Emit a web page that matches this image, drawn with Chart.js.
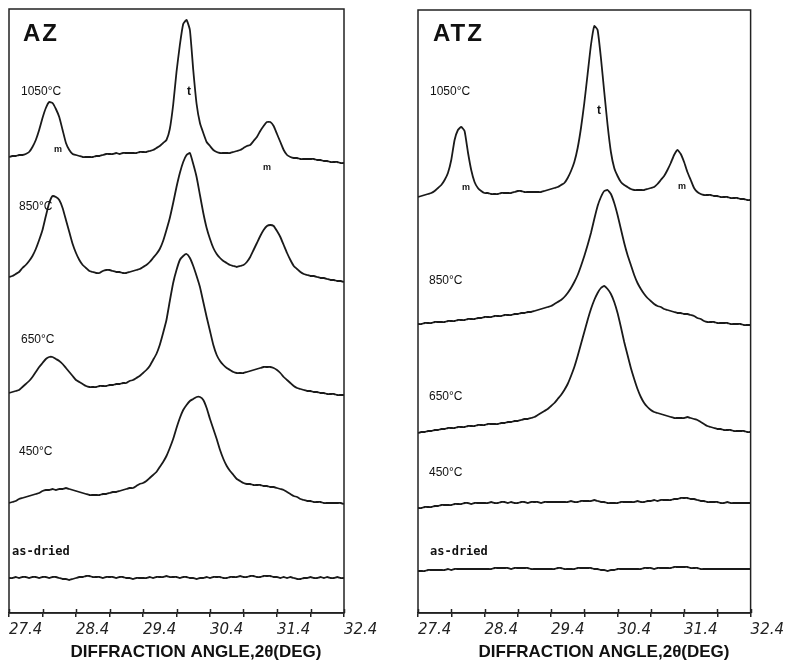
<!DOCTYPE html>
<html>
<head>
<meta charset="utf-8">
<script src="https://cdn.jsdelivr.net/npm/chart.js@4.4.1/dist/chart.umd.min.js"></script>
<style>
  body { margin: 0; background: #fff; }
  #wrap { position: relative; width: 788px; height: 662px; }
  canvas { position: absolute; top: 0; }
</style>
</head>
<body>
<div id="wrap">
  <canvas id="azChart" width="394" height="662" style="left:0"></canvas>
  <canvas id="atzChart" width="394" height="662" style="left:394px"></canvas>
</div>
<script>
// 2-theta grid (deg)
const angles = [
  27.40, 27.45, 27.50, 27.55, 27.60, 27.65, 27.70, 27.75, 27.80, 27.85,
  27.90, 27.95, 28.00, 28.05, 28.10, 28.15, 28.20, 28.25, 28.30, 28.35,
  28.40, 28.45, 28.50, 28.55, 28.60, 28.65, 28.70, 28.75, 28.80, 28.85,
  28.90, 28.95, 29.00, 29.05, 29.10, 29.15, 29.20, 29.25, 29.30, 29.35,
  29.40, 29.45, 29.50, 29.55, 29.60, 29.65, 29.70, 29.75, 29.80, 29.85,
  29.90, 29.95, 30.00, 30.05, 30.10, 30.15, 30.20, 30.25, 30.30, 30.35,
  30.40, 30.45, 30.50, 30.55, 30.60, 30.65, 30.70, 30.75, 30.80, 30.85,
  30.90, 30.95, 31.00, 31.05, 31.10, 31.15, 31.20, 31.25, 31.30, 31.35,
  31.40, 31.45, 31.50, 31.55, 31.60, 31.65, 31.70, 31.75, 31.80, 31.85,
  31.90, 31.95, 32.00, 32.05, 32.10, 32.15, 32.20, 32.25, 32.30, 32.35, 32.40
];

const tickValues = [27.4, 27.9, 28.4, 28.9, 29.4, 29.9, 30.4, 30.9, 31.4, 31.9, 32.4];
const tickLabels = ['27.4', '', '28.4', '', '29.4', '', '30.4', '', '31.4', '', '32.4'];

const samples = ['1050°C', '850°C', '650°C', '450°C', 'as-dried'];

// stacking offsets of each pattern (arbitrary intensity units)
const azOffsets = [456, 336, 220, 110, 35];
const atzOffsets = [417, 289, 180, 105, 42];

// AZ intensities above each pattern's start level
const az1050 = [
  0, 1, 1, 2, 2, 3, 5, 10, 17, 27,
  39, 49, 55, 54, 48, 40, 27, 14, 7, 3,
  2, 1, 0, 0, 0, 0, 1, 1, 2, 3,
  3, 3, 4, 3, 4, 4, 4, 4, 4, 5,
  5, 5, 6, 7, 9, 11, 14, 17, 28, 52,
  85, 112, 133, 137, 127, 87, 53, 34, 24, 15,
  11, 7, 5, 4, 4, 4, 4, 5, 6, 7,
  9, 11, 12, 16, 20, 26, 31, 35, 35, 31,
  23, 15, 7, 2, 0, -1, -1, -2, -2, -2,
  -2, -2, -3, -3, -4, -4, -5, -5, -5, -6, -6
];
const az850 = [
  0, 1, 3, 5, 9, 12, 16, 21, 28, 37,
  47, 61, 74, 81, 80, 77, 69, 57, 45, 33,
  24, 17, 12, 9, 6, 5, 4, 4, 6, 7,
  7, 6, 5, 5, 4, 4, 5, 6, 7, 8,
  10, 12, 15, 19, 23, 28, 36, 47, 59, 74,
  90, 104, 115, 122, 124, 113, 100, 82, 64, 49,
  38, 29, 23, 19, 16, 14, 12, 11, 10, 11,
  12, 15, 20, 27, 34, 41, 47, 51, 52, 51,
  46, 40, 32, 24, 17, 11, 8, 5, 3, 2,
  1, 1, 0, -1, -1, -2, -3, -3, -4, -4, -5
];
const az650 = [
  0, 1, 2, 3, 6, 9, 12, 16, 21, 26,
  30, 34, 36, 36, 34, 32, 29, 25, 21, 17,
  13, 11, 9, 7, 6, 6, 6, 7, 7, 7,
  8, 8, 9, 9, 10, 10, 12, 13, 15, 17,
  20, 23, 27, 33, 39, 48, 60, 73, 92, 110,
  123, 133, 137, 139, 135, 127, 117, 106, 91, 76,
  62, 48, 38, 32, 28, 25, 23, 21, 20, 20,
  20, 21, 22, 23, 24, 25, 26, 26, 26, 25,
  23, 20, 16, 13, 10, 7, 5, 4, 3, 2,
  2, 1, 1, 0, 0, -1, -1, -1, -2, -2, -2
];
const az450 = [
  0, 1, 2, 4, 5, 6, 7, 8, 9, 10,
  12, 13, 13, 14, 13, 14, 14, 15, 14, 13,
  12, 11, 10, 9, 8, 8, 8, 8, 9, 9,
  10, 11, 11, 12, 13, 14, 15, 15, 17, 19,
  20, 22, 25, 28, 31, 36, 41, 47, 55, 64,
  75, 85, 93, 98, 102, 104, 106, 106, 103, 95,
  84, 74, 64, 53, 44, 37, 32, 28, 24, 22,
  20, 19, 19, 18, 18, 18, 17, 17, 16, 16,
  15, 14, 13, 11, 9, 7, 6, 4, 3, 2,
  2, 1, 1, 1, 0, 0, 0, 0, 0, 0, -1
];
const azDried = [
  0, 0, 1, 0, 1, 1, 0, 1, 1, 0,
  1, 1, 0, 1, 1, 0, -1, -1, -2, -1,
  0, 1, 1, 2, 2, 1, 1, 1, 0, 1,
  1, 1, 0, 1, 1, 0, 0, -1, 0, 0,
  0, 0, 1, 0, 1, 1, 1, 2, 1, 1,
  1, 0, 1, 1, 0, 0, -1, 0, 0, 1,
  0, 1, 1, 1, 0, 0, 1, 1, 1, 2,
  1, 1, 2, 2, 1, 1, 2, 2, 2, 1,
  1, 0, 1, 0, 1, 0, -1, -1, 0, 0,
  1, 0, 0, 1, 0, 1, 0, 0, 1, 0, 0
];

// ATZ intensities above each pattern's start level
const atz1050 = [
  -1, 0, 1, 2, 3, 5, 8, 11, 16, 23,
  36, 56, 66, 69, 65, 44, 26, 14, 8, 5,
  3, 3, 2, 2, 2, 3, 3, 3, 3, 4,
  5, 5, 4, 4, 4, 4, 4, 4, 5, 6,
  7, 8, 9, 11, 13, 18, 25, 34, 48, 68,
  93, 122, 151, 170, 166, 138, 104, 71, 44, 28,
  20, 14, 11, 9, 7, 6, 6, 6, 6, 7,
  8, 9, 12, 16, 20, 26, 33, 41, 46, 42,
  34, 24, 16, 8, 4, 2, 1, 1, 1, 0,
  0, -1, -1, -1, -2, -2, -2, -3, -3, -4, -4
];
const atz850 = [
  0, 0, 1, 1, 1, 2, 2, 2, 2, 3,
  3, 3, 4, 4, 4, 5, 5, 5, 6, 6,
  7, 7, 7, 8, 8, 8, 9, 9, 9, 10,
  10, 11, 11, 12, 12, 13, 14, 15, 16, 17,
  18, 20, 22, 24, 27, 31, 36, 42, 49, 58,
  68, 79, 91, 105, 118, 127, 133, 134, 130, 121,
  109, 95, 81, 69, 59, 49, 41, 35, 30, 26,
  23, 20, 18, 17, 15, 14, 13, 12, 11, 11,
  10, 10, 9, 8, 6, 5, 3, 2, 2, 2,
  1, 1, 1, 1, 0, 0, 0, 0, -1, -1, -1
];
const atz650 = [
  0, 1, 1, 2, 2, 3, 3, 4, 4, 5,
  5, 5, 6, 6, 6, 7, 7, 7, 8, 8,
  8, 9, 9, 9, 9, 10, 10, 11, 11, 12,
  12, 13, 14, 14, 15, 16, 18, 20, 22, 24,
  27, 30, 34, 38, 43, 49, 57, 66, 77, 89,
  101, 113, 124, 133, 140, 145, 147, 144, 139, 131,
  120, 106, 91, 78, 65, 54, 44, 36, 30, 26,
  23, 21, 20, 19, 18, 17, 16, 15, 15, 15,
  15, 16, 15, 14, 13, 11, 9, 7, 6, 5,
  4, 4, 3, 3, 3, 2, 2, 2, 2, 1, 1
];
const atz450 = [
  0, 0, 1, 1, 1, 2, 2, 3, 3, 3,
  3, 4, 4, 4, 5, 5, 4, 5, 5, 5,
  5, 5, 6, 5, 5, 6, 6, 5, 6, 5,
  5, 6, 6, 5, 6, 6, 6, 5, 6, 6,
  6, 6, 6, 6, 6, 6, 7, 6, 6, 7,
  7, 7, 7, 8, 7, 6, 6, 5, 5, 5,
  5, 6, 6, 6, 6, 6, 7, 6, 6, 7,
  7, 8, 7, 8, 8, 8, 8, 9, 9, 10,
  10, 10, 9, 9, 8, 7, 7, 6, 6, 6,
  6, 5, 5, 6, 5, 5, 5, 5, 5, 5, 5
];
const atzDried = [
  0, 0, 0, 1, 1, 1, 1, 1, 1, 2,
  1, 2, 2, 2, 2, 2, 2, 2, 2, 2,
  2, 2, 2, 3, 3, 3, 3, 3, 2, 3,
  3, 3, 3, 3, 2, 2, 2, 2, 2, 2,
  2, 2, 3, 3, 2, 2, 2, 2, 3, 3,
  3, 3, 3, 2, 2, 1, 1, 0, 1, 1,
  2, 2, 2, 2, 2, 2, 2, 2, 3, 3,
  3, 2, 3, 3, 3, 3, 3, 4, 4, 4,
  4, 4, 3, 3, 3, 2, 2, 2, 2, 2,
  2, 2, 2, 2, 2, 2, 2, 2, 2, 2, 2
];

// frame, inner tick stubs, panel name, sample labels, peak marks and axis title
const notesPlugin = {
  id: 'notes',
  afterDraw(chart, args, o) {
    const { ctx, chartArea: a } = chart;
    const xs = chart.scales.x;
    ctx.save();
    ctx.strokeStyle = '#222';
    ctx.lineWidth = 1.5;
    ctx.strokeRect(a.left, a.top, a.right - a.left, a.bottom - a.top);
    ctx.beginPath();
    tickValues.forEach(v => {
      const px = Math.round(xs.getPixelForValue(v)) + 0.5;
      ctx.moveTo(px, a.bottom);
      ctx.lineTo(px, a.bottom - 4);
    });
    ctx.stroke();

    ctx.fillStyle = '#111';
    ctx.textBaseline = 'middle';
    ctx.textAlign = 'left';
    ctx.font = 'bold 24px "Liberation Sans"';
    ctx.letterSpacing = '2px';
    ctx.fillText(o.name, o.nameAt[0], o.nameAt[1]);
    ctx.letterSpacing = '0px';
    samples.forEach((s, i) => {
      ctx.font = s === 'as-dried' ? 'bold 12px "DejaVu Sans Mono"' : '12px "Liberation Sans"';
      ctx.fillText(s, o.sampleAt[i][0], o.sampleAt[i][1]);
    });
    ctx.textAlign = 'center';
    ctx.font = 'bold 12px "Liberation Sans"';
    ctx.fillText('t', o.tAt[0], o.tAt[1]);
    ctx.font = 'bold 9px "Liberation Sans"';
    o.mAt.forEach(p => ctx.fillText('m', p[0], p[1]));
    ctx.font = 'bold 17px "Liberation Sans"';
    ctx.fillText('DIFFRACTION ANGLE,2θ(DEG)', o.axisTitleX, 652);
    ctx.restore();
  }
};

function makePanel(id, series, offsets, yMax, padding, notes) {
  new Chart(document.getElementById(id), {
    type: 'line',
    data: {
      datasets: series.map((vals, k) => ({
        label: samples[k],
        data: angles.map((a, i) => ({ x: a, y: offsets[k] + vals[i] })),
        borderColor: '#1a1a1a',
        borderWidth: 1.8,
        pointRadius: 0,
        tension: 0.15,
        fill: false
      }))
    },
    options: {
      responsive: false,
      animation: false,
      devicePixelRatio: 1,
      layout: { padding: padding },
      plugins: {
        legend: { display: false },
        tooltip: { enabled: false },
        notes: notes
      },
      scales: {
        x: {
          type: 'linear',
          min: 27.4,
          max: 32.4,
          afterBuildTicks: s => { s.ticks = tickValues.map(v => ({ value: v })); },
          afterFit: s => { s.height = 49; },
          grid: { drawOnChartArea: false, drawTicks: true, tickLength: 4, color: '#222', lineWidth: 1.5 },
          border: { display: true, color: '#222', width: 1.5 },
          ticks: {
            autoSkip: false,
            maxRotation: 0,
            align: 'start',
            padding: 4,
            color: '#222',
            font: { family: 'DejaVu Sans', size: 15, style: 'italic' },
            callback: (v, i) => tickLabels[i]
          }
        },
        y: { display: false, min: 0, max: yMax }
      }
    },
    plugins: [notesPlugin]
  });
}

makePanel('azChart', [az1050, az850, az650, az450, azDried], azOffsets, 604,
  { left: 9, right: 50, top: 9, bottom: 0 },
  {
    name: 'AZ', nameAt: [23, 34],
    sampleAt: [[21, 92], [19, 207], [21, 340], [19, 452], [12, 552]],
    tAt: [189, 92], mAt: [[58, 150], [267, 168]],
    axisTitleX: 196
  });

makePanel('atzChart', [atz1050, atz850, atz650, atz450, atzDried], atzOffsets, 603,
  { left: 24, right: 37, top: 10, bottom: 0 },
  {
    name: 'ATZ', nameAt: [39, 34],
    sampleAt: [[36, 92], [35, 281], [35, 397], [35, 473], [36, 552]],
    tAt: [205, 111], mAt: [[72, 188], [288, 187]],
    axisTitleX: 210
  });
</script>
</body>
</html>
